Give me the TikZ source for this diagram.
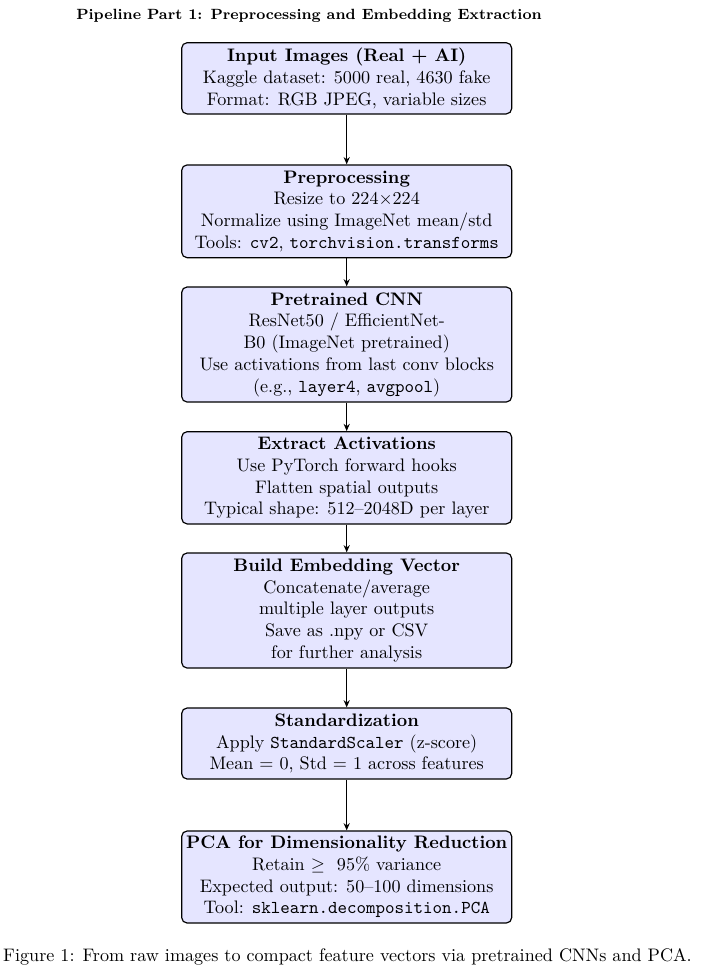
\documentclass[tikz,border=0pt]{standalone}
\usetikzlibrary{arrows.meta}
\begin{document}
\begin{tikzpicture}[x=0.5518pt,y=-0.5518pt,
  box/.style={draw=black, line width=0.65pt, fill=blue!10, rounded corners=3pt, align=center,
    minimum width=182.1pt, inner sep=2pt, font=\normalsize},
  conn/.style={-{Stealth[length=4pt,width=3.4pt]}, line width=0.7pt}]
\useasboundingbox (0,0) rectangle (706,980);
\node[font=\fontsize{8.17}{10}\selectfont\bfseries] (title) at (309,16) {Pipeline Part 1: Preprocessing and Embedding Extraction};
\node[box, minimum height=39.3pt] (b1) at (346.7,78.3) {\textbf{Input Images (Real + AI)}\\Kaggle dataset: 5000 real, 4630 fake\\Format: RGB JPEG, variable sizes};
\node[box, minimum height=51.2pt] (b2) at (346.7,211.3) {\textbf{Preprocessing}\\Resize to 224$\times$224\\Normalize using ImageNet mean/std\\Tools: \texttt{cv2}, \texttt{torchvision.transforms}};
\node[box, minimum height=63.5pt] (b3) at (346.7,344.5) {\textbf{Pretrained CNN}\\ResNet50 / EfficientNet-\\B0 (ImageNet pretrained)\\Use activations from last conv blocks\\(e.g., \texttt{layer4}, \texttt{avgpool})};
\node[box, minimum height=50.9pt] (b4) at (346.7,477.8) {\textbf{Extract Activations}\\Use PyTorch forward hooks\\Flatten spatial outputs\\Typical shape: 512--2048D per layer};
\node[box, minimum height=63.5pt] (b5) at (346.7,610.5) {\textbf{Build Embedding Vector}\\Concatenate/average\\multiple layer outputs\\Save as .npy or CSV\\for further analysis};
\node[box, minimum height=39.2pt] (b6) at (346.7,743.5) {\textbf{Standardization}\\Apply \texttt{StandardScaler} (z-score)\\Mean = 0, Std = 1 across features};
\node[box, minimum height=50.8pt] (b7) at (346.7,877) {\textbf{PCA for Dimensionality Reduction}\\Retain $\geq$\ \ 95\% variance\\Expected output: 50--100 dimensions\\Tool: \texttt{sklearn.decomposition.PCA}};
\node (cap) at (347.5,957) {Figure 1: From raw images to compact feature vectors via pretrained CNNs and PCA.};
\draw[conn] (b1) -- (b2);
\draw[conn] (b2) -- (b3);
\draw[conn] (b3) -- (b4);
\draw[conn] (b4) -- (b5);
\draw[conn] (b5) -- (b6);
\draw[conn] (b6) -- (b7);
\end{tikzpicture}
\end{document}
